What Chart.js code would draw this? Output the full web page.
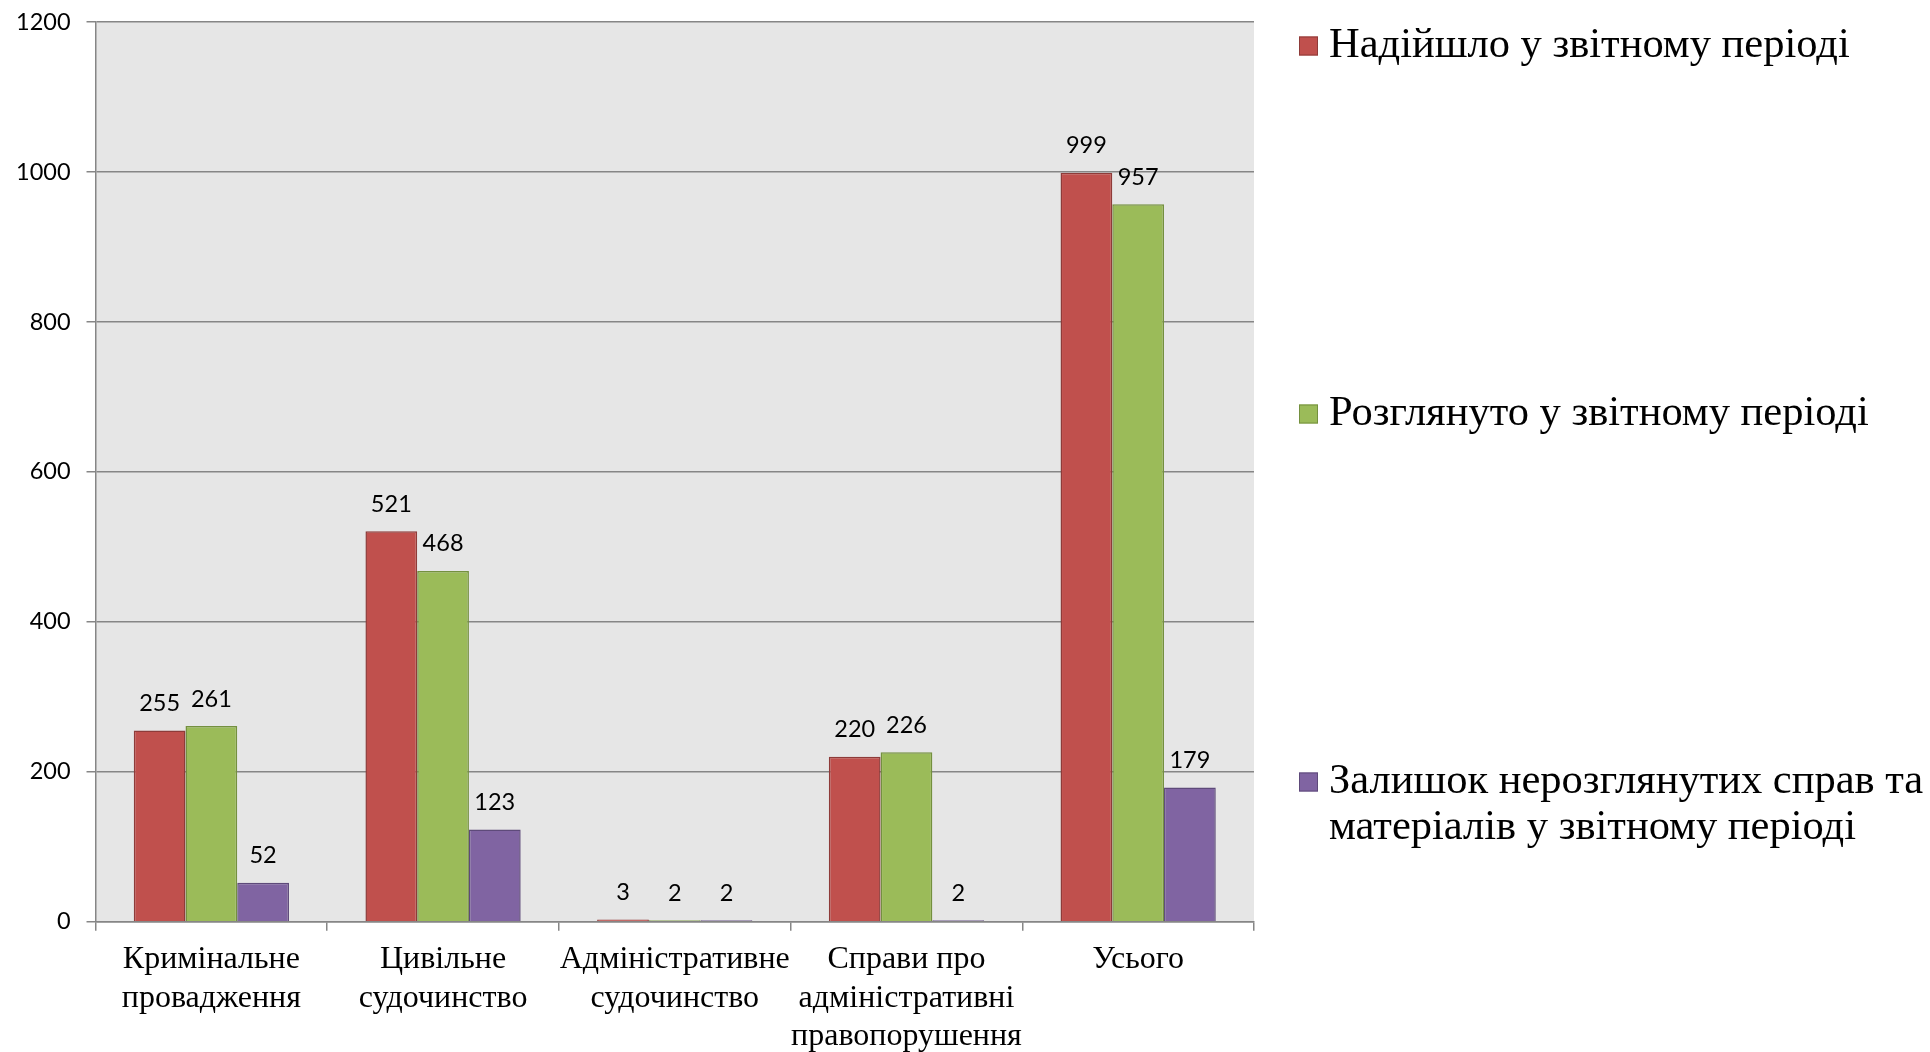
<!DOCTYPE html>
<html>
<head>
<meta charset="utf-8">
<script src="https://cdn.jsdelivr.net/npm/chart.js@4/dist/chart.umd.min.js"></script>
<style>
  html, body { margin: 0; padding: 0; background: #fff; }
  #wrap { width: 1930px; height: 1052px; position: relative; }
</style>
</head>
<body>
<div id="wrap"><canvas id="chartCases"></canvas></div>
<script>
// categories (multi-line labels as in the original)
const categories = [
  ['Кримінальне', 'провадження'],
  ['Цивільне', 'судочинство'],
  ['Адміністративне', 'судочинство'],
  ['Справи про', 'адміністративні', 'правопорушення'],
  ['Усього']
];
const seriesNames = [
  'Надійшло у звітному періоді',
  'Розглянуто у звітному періоді',
  'Залишок нерозглянутих справ та матеріалів у звітному періоді'
];
const received = [255, 521, 3, 220, 999];
const considered = [261, 468, 2, 226, 957];
const remaining = [52, 123, 2, 2, 179];
const yTicks = [0, 200, 400, 600, 800, 1000, 1200];

const fills = ['#C0504D', '#9BBB59', '#8064A2'];
const borders = ['#8E3B39', '#74903F', '#5E4A7A'];

const numFont = '23.5px Lato, "Open Sans", sans-serif';
const serif = '"Liberation Serif", "DejaVu Serif", serif';

// grey plot background
const plotBg = {
  id: 'plotBg',
  beforeDraw(chart) {
    const a = chart.chartArea, c = chart.ctx;
    c.save();
    c.fillStyle = '#E6E6E6';
    c.fillRect(a.left, a.top, a.right - a.left, a.bottom - a.top);
    c.restore();
  }
};

// value labels above each bar
const valueLabels = {
  id: 'valueLabels',
  afterDatasetsDraw(chart) {
    const c = chart.ctx;
    c.save();
    c.font = numFont;
    c.fillStyle = '#000';
    c.textAlign = 'center';
    c.textBaseline = 'middle';
    chart.data.datasets.forEach((ds, i) => {
      chart.getDatasetMeta(i).data.forEach((bar, j) => {
        c.fillText(String(ds.data[j]), bar.x, bar.y - 27);
      });
    });
    c.restore();
  }
};

// legend on the right, items spread down the height like the original
const sideLegend = {
  id: 'sideLegend',
  afterDraw(chart) {
    const c = chart.ctx;
    const boxX = 1299, textX = 1329, box = 19;
    const maxW = chart.width - textX + 6;
    const rowsY = [46, 414, 782];
    c.save();
    c.font = '42.5px ' + serif;
    c.textBaseline = 'middle';
    c.textAlign = 'left';
    chart.data.datasets.forEach((ds, i) => {
      // wrap the label into lines
      const words = ds.label.split(' ');
      const lines = [];
      let line = '';
      words.forEach(w => {
        const t = line ? line + ' ' + w : w;
        if (c.measureText(t).width > maxW && line) { lines.push(line); line = w; }
        else line = t;
      });
      lines.push(line);
      const y = rowsY[i];
      c.fillStyle = ds.backgroundColor;
      c.strokeStyle = ds.borderColor;
      c.lineWidth = 1;
      c.fillRect(boxX, y - box / 2, box, box);
      c.strokeRect(boxX + 0.5, y - box / 2 + 0.5, box - 1, box - 1);
      c.fillStyle = '#000';
      lines.forEach((l, k) => c.fillText(l, textX, y + k * 46));
    });
    c.restore();
  }
};

const datasets = [received, considered, remaining].map((d, i) => ({
  label: seriesNames[i],
  data: d,
  backgroundColor: fills[i],
  borderColor: borders[i],
  borderWidth: 1.5,
  borderSkipped: 'bottom'
}));

new Chart(document.getElementById('chartCases'), {
  type: 'bar',
  data: { labels: categories, datasets: datasets },
  plugins: [plotBg, valueLabels, sideLegend],
  options: {
    responsive: true,
    maintainAspectRatio: false,
    animation: false,
    layout: { padding: { top: 22, right: 676, bottom: -14, left: 0 } },
    plugins: {
      legend: { display: false },
      tooltip: { enabled: false }
    },
    datasets: {
      bar: { categoryPercentage: 0.67, barPercentage: 1.0 }
    },
    scales: {
      x: {
        grid: {
          offset: true,
          drawOnChartArea: false,
          drawTicks: true,
          tickLength: 9,
          color: '#868686',
          lineWidth: 1.5
        },
        border: { color: '#868686', width: 1.5 },
        ticks: {
          color: '#000',
          padding: 10,
          maxRotation: 0,
          autoSkip: false,
          font: { family: serif, size: 32, lineHeight: 1.2 }
        }
      },
      y: {
        min: 0,
        max: 1200,
        afterBuildTicks(axis) { axis.ticks = yTicks.map(v => ({ value: v })); },
        // keep the tick padding from pushing the plot top down
        afterFit(axis) { axis.paddingTop = 0; axis.paddingBottom = 0; },
        grid: {
          color: '#868686',
          lineWidth: 1.5,
          drawTicks: true,
          tickLength: 9
        },
        border: { color: '#868686', width: 1.5 },
        ticks: {
          color: '#000',
          padding: 16,
          callback: v => String(v),
          font: { family: 'Lato, "Open Sans", sans-serif', size: 23.5 }
        }
      }
    }
  }
});
</script>
</body>
</html>
